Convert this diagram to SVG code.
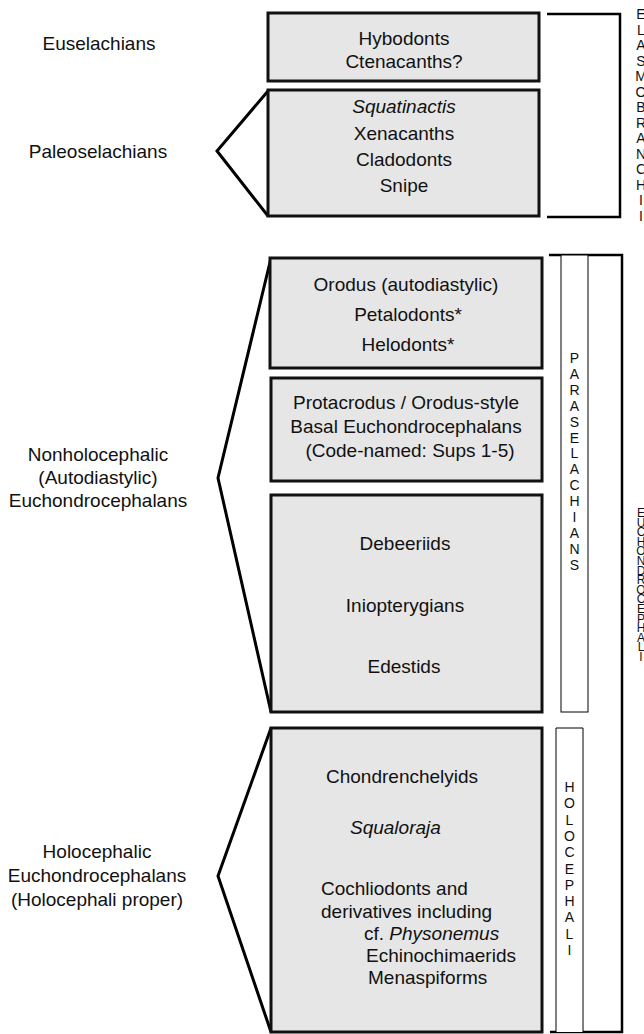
<svg xmlns="http://www.w3.org/2000/svg" width="644" height="1034" viewBox="0 0 644 1034">
<style>
text{font-family:"Liberation Sans",Arial,sans-serif;fill:#111;}
.lbl{font-size:19px;text-anchor:middle;}
.bt{font-size:19px;text-anchor:middle;}
.lt{font-size:19px;}
.it{font-style:italic;}
.box{fill:#e6e6e6;stroke:#111;stroke-width:3;}
.chev{fill:none;stroke:#000;stroke-width:3;stroke-linejoin:miter;}
.brk{fill:none;stroke:#000;stroke-width:2.5;}
.thin{fill:#fff;stroke:#000;stroke-width:1;}
.vl{font-size:14px;text-anchor:middle;}
.vert{font-size:12px;writing-mode:vertical-rl;text-orientation:upright;letter-spacing:-4.4px;}
</style>
<rect width="644" height="1034" fill="#fff"/>
<g id="connectors">
<polyline class="chev" points="268,91 217,151 268,216"/>
<polyline class="chev" points="271,258 218,478 271,712"/>
<polyline class="chev" points="271,728 218,876 271,1032"/>
<polyline class="brk" points="547,14 620,14 620,217 547,217"/>
<polyline class="brk" stroke-width="2" points="549,255 622,255 622,1032 550,1032"/>
</g>
<g id="label-euselachians"><text class="lbl" x="99" y="50">Euselachians</text></g>
<g id="label-paleoselachians"><text class="lbl" x="98" y="158">Paleoselachians</text></g>
<g id="label-nonholocephalic"><text class="lbl" x="98" y="461">Nonholocephalic</text><text class="lbl" x="98" y="484">(Autodiastylic)</text><text class="lbl" x="98" y="507">Euchondrocephalans</text></g>
<g id="label-holocephalic"><text class="lbl" x="97" y="858">Holocephalic</text><text class="lbl" x="97" y="882">Euchondrocephalans</text><text class="lbl" x="97" y="906">(Holocephali proper)</text></g>
<g id="box-hybodonts"><rect class="box" x="268" y="13" width="271" height="68"/><text class="bt" x="404" y="45">Hybodonts</text><text class="bt" x="404" y="68">Ctenacanths?</text></g>
<g id="box-squatinactis"><rect class="box" x="268" y="90" width="271" height="126"/><text class="bt it" x="404" y="113">Squatinactis</text><text class="bt" x="404" y="140">Xenacanths</text><text class="bt" x="404" y="166">Cladodonts</text><text class="bt" x="404" y="192">Snipe</text></g>
<g id="box-orodus"><rect class="box" x="270" y="258" width="272" height="110"/><text class="bt" x="406" y="291">Orodus (autodiastylic)</text><text class="bt" x="408" y="321">Petalodonts*</text><text class="bt" x="408" y="351">Helodonts*</text></g>
<g id="box-protacrodus"><rect class="box" x="271" y="378" width="271" height="103"/><text class="bt" x="406" y="409">Protacrodus / Orodus-style</text><text class="bt" x="406" y="433">Basal Euchondrocephalans</text><text class="bt" x="410" y="457">(Code-named: Sups 1-5)</text></g>
<g id="box-debeeriids"><rect class="box" x="271" y="495" width="271" height="217"/><text class="bt" x="405" y="550">Debeeriids</text><text class="bt" x="405" y="612">Iniopterygians</text><text class="bt" x="404" y="673">Edestids</text></g>
<g id="box-chondrenchelyids"><rect class="box" x="271" y="728" width="271" height="304"/>
<text class="lt" x="326" y="783">Chondrenchelyids</text>
<text class="lt it" x="350" y="834">Squaloraja</text>
<text class="lt" x="321" y="895">Cochliodonts and</text>
<text class="lt" x="321" y="918">derivatives including</text>
<text class="lt" x="364" y="940">cf. <tspan class="it">Physonemus</tspan></text>
<text class="lt" x="366" y="962">Echinochimaerids</text>
<text class="lt" x="368" y="984">Menaspiforms</text>
</g>
<g id="bar-paraselachians"><rect class="thin" x="561" y="255" width="27" height="457"/>
<text class="vl"><tspan x="574.5" y="363">P</tspan><tspan x="574.5" dy="15.9">A</tspan><tspan x="574.5" dy="15.9">R</tspan><tspan x="574.5" dy="15.9">A</tspan><tspan x="574.5" dy="15.9">S</tspan><tspan x="574.5" dy="15.9">E</tspan><tspan x="574.5" dy="15.9">L</tspan><tspan x="574.5" dy="15.9">A</tspan><tspan x="574.5" dy="15.9">C</tspan><tspan x="574.5" dy="15.9">H</tspan><tspan x="574.5" dy="15.9">I</tspan><tspan x="574.5" dy="15.9">A</tspan><tspan x="574.5" dy="15.9">N</tspan><tspan x="574.5" dy="15.9">S</tspan></text></g>
<g id="bar-holocephali"><path class="thin" d="M556,1032 V728 H583 V1032"/>
<text class="vl"><tspan x="569.5" y="792">H</tspan><tspan x="569.5" dy="16.3">O</tspan><tspan x="569.5" dy="16.3">L</tspan><tspan x="569.5" dy="16.3">O</tspan><tspan x="569.5" dy="16.3">C</tspan><tspan x="569.5" dy="16.3">E</tspan><tspan x="569.5" dy="16.3">P</tspan><tspan x="569.5" dy="16.3">H</tspan><tspan x="569.5" dy="16.3">A</tspan><tspan x="569.5" dy="16.3">L</tspan><tspan x="569.5" dy="16.3">I</tspan></text></g>
<g id="label-elasmobranchii"><text class="vl" font-size="14.5"><tspan x="641" y="19">E</tspan><tspan x="641" dy="15.5">L</tspan><tspan x="641" dy="15.5">A</tspan><tspan x="641" dy="15.5">S</tspan><tspan x="641" dy="15.5">M</tspan><tspan x="641" dy="15.5">O</tspan><tspan x="641" dy="15.5">B</tspan><tspan x="641" dy="15.5">R</tspan><tspan x="641" dy="15.5">A</tspan><tspan x="641" dy="15.5">N</tspan><tspan x="641" dy="15.5">C</tspan><tspan x="641" dy="15.5">H</tspan><tspan x="641" dy="15.5">I</tspan><tspan x="641" dy="15.5">I</tspan></text></g>
<g id="label-euchondrocephali"><text class="vert" x="641" y="506">EUCHONDROCEPHALI</text></g>
</svg>
